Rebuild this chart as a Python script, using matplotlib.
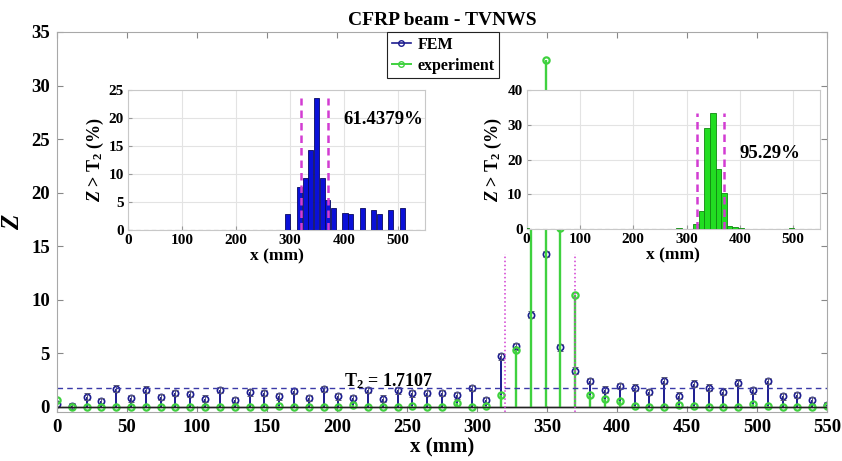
import matplotlib
matplotlib.use("Agg")
import matplotlib.pyplot as plt
import numpy as np
from matplotlib.lines import Line2D

plt.rcParams['font.family'] = ['Liberation Serif', 'DejaVu Serif']
plt.rcParams['font.weight'] = 'bold'
plt.rcParams['axes.titleweight'] = 'bold'
plt.rcParams['axes.labelweight'] = 'bold'
plt.rcParams['mathtext.fontset'] = 'custom'
plt.rcParams['mathtext.rm'] = 'Liberation Serif:bold'
plt.rcParams['mathtext.it'] = 'Liberation Serif:bold:italic'
plt.rcParams['mathtext.bf'] = 'Liberation Serif:bold'

# measurement positions along the beam (mm)
x_pos = np.linspace(0, 550, 53)

# damage index Z, FEM model
z_fem = [0.25, 0.05, 0.93, 0.50, 1.68, 0.78, 1.59, 0.90, 1.30, 1.18,
         0.75, 1.55, 0.60, 1.34, 1.30, 0.96, 1.46, 0.81, 1.65, 0.96,
         0.78, 1.55, 0.75, 1.52, 1.24, 1.30, 1.30, 1.06, 1.75, 0.59,
         4.70, 5.63, 8.59, 14.25, 5.54, 3.36, 2.40, 1.59, 1.93, 1.77,
         1.37, 2.43, 1.03, 2.15, 1.77, 1.40, 2.24, 1.52, 2.40, 0.96,
         1.09, 0.59, 0.16]
z_fem_err = [0.3] * 53

# damage index Z, experiment
z_exp = [0.65, 0.0, 0.0, 0.0, 0.0, 0.0, 0.0, 0.0, 0.0, 0.0,
         0.0, 0.0, 0.0, 0.0, 0.0, 0.10, 0.0, 0.0, 0.0, 0.0,
         0.20, 0.0, 0.0, 0.0, 0.10, 0.0, 0.0, 0.30, 0.0, 0.05,
         1.09, 5.30, 28.4, 32.4, 16.7, 10.46, 1.12, 0.72, 0.50, 0.05,
         0.0, 0.0, 0.15, 0.10, 0.0, 0.0, 0.0, 0.25, 0.05, 0.0,
         0.0, 0.0, 0.10]

# share of Z > T2 per position (%)
pct_fem = [0.0] * 28 + [2.9, 0.0, 7.7, 9.3, 14.2, 23.5, 9.2, 5.4, 4.0, 0.0,
                        3.1, 2.9, 0.0, 3.9, 0.0, 3.5, 2.9, 0.0, 3.6, 0.0,
                        3.9, 0.0, 0.0, 0.0, 0.0]
pct_exp = [0.5] + [0.0] * 26 + [0.3, 0.0, 0.0, 1.5, 5.3, 29.2, 33.3, 17.2,
                               10.5, 1.0, 0.7, 0.5, 0.0, 0.0, 0.0, 0.0, 0.0,
                               0.0, 0.0, 0.0, 0.3, 0.0, 0.0, 0.0, 0.0, 0.0]

T2 = 1.7107
zone = [320, 370]
pct_in_zone_fem = '61.4379%'
pct_in_zone_exp = '95.29%'

C_FEM = '#1c1c8f'
C_EXP = '#3fd13f'
C_ZONE = '#d23cd2'
C_FRAME = '#a8a8a8'

fig = plt.figure(figsize=(8.42, 4.61), dpi=100)
ax = fig.add_axes([0.0677, 0.1063, 0.9145, 0.8243])

# FEM stems with error bars
ml, sl, bl = ax.stem(x_pos, z_fem, basefmt='k-')
ml.set(marker='o', markersize=4.5, markerfacecolor='none',
       markeredgecolor=C_FEM, markeredgewidth=1.2)
sl.set(color=C_FEM, linewidth=1.4)
bl.set(color='#222222', linewidth=1.0)
ax.errorbar(x_pos, z_fem, yerr=z_fem_err, fmt='none', ecolor='#555577',
            elinewidth=0.7, capsize=2, capthick=0.7)

# experiment stems
ml2, sl2, bl2 = ax.stem(x_pos, z_exp, basefmt='k-')
ml2.set(marker='o', markersize=4.5, markerfacecolor='none',
        markeredgecolor=C_EXP, markeredgewidth=1.6)
sl2.set(color=C_EXP, linewidth=1.7)
bl2.set(color='#222222', linewidth=1.0)

ax.axhline(T2, color='#3a3aa8', linestyle=(0, (4, 3)), linewidth=1.0)
ax.text(237, 1.9, 'T$_2$ = 1.7107', ha='center', va='baseline', fontsize=13)
ax.vlines(zone, -0.5, max(z_fem), colors=C_ZONE, linestyles=':', linewidth=1.1)

ax.set_xlim(0, 550)
ax.set_ylim(-0.5, 35)
ax.set_xticks(np.arange(0, 551, 50))
ax.set_yticks(np.arange(0, 36, 5))
ax.tick_params(direction='in', top=True, right=True, length=4, width=0.8,
               color='#888888', labelsize=13.5, pad=5)
for s in ax.spines.values():
    s.set_color(C_FRAME)
    s.set_linewidth(0.8)
ax.set_title('CFRP beam - TVNWS', fontsize=14, pad=5)
ax.set_xlabel('x (mm)', fontsize=15, labelpad=1)
ax.set_ylabel('$Z$', fontsize=18, labelpad=5)

handles = [Line2D([], [], color=C_FEM, marker='o', markerfacecolor='none',
                  markersize=4, linewidth=1.2),
           Line2D([], [], color=C_EXP, marker='o', markerfacecolor='none',
                  markersize=4, linewidth=1.4)]
leg = ax.legend(handles, ['FEM', 'experiment'], loc='upper left',
                bbox_to_anchor=(0.4286, 1.0), borderaxespad=0, fontsize=11.5,
                fancybox=False, framealpha=1, handlelength=1.2,
                handletextpad=0.4, borderpad=0.3, labelspacing=0.3)
leg.get_frame().set_edgecolor('#222222')
leg.get_frame().set_linewidth(0.8)


def inset(rect, pct, color, edge, width, ymax, ystep, label):
    ia = fig.add_axes(rect)
    ia.bar(x_pos, pct, width=width, color=color, edgecolor=edge,
           linewidth=0.6, zorder=3)
    ia.axhline(0, color='#888888', linestyle=(0, (4, 3)), linewidth=0.8,
               zorder=4)
    ia.vlines(zone, 0, max(pct), colors=C_ZONE, linestyles=(0, (3, 2)),
              linewidth=1.8, zorder=5)
    ia.set_xlim(0, 550)
    ia.set_ylim(0, ymax)
    ia.set_xticks(np.arange(0, 501, 100))
    ia.set_yticks(np.arange(0, ymax + 1, ystep))
    ia.grid(True, color='#e3e3e3', linewidth=0.8, zorder=0)
    ia.tick_params(direction='in', length=3, color='#999999', labelsize=11,
                   pad=3)
    for s in ia.spines.values():
        s.set_color('#c8c8c8')
        s.set_linewidth(0.8)
    ia.set_xlabel('x (mm)', fontsize=12.5, labelpad=1)
    ia.set_ylabel('$Z$ > T$_2$ (%)', fontsize=13, labelpad=2)
    ia.text(label[0], label[1], label[2], fontsize=13.5, va='center',
            zorder=6)
    return ia


inset([0.152, 0.5011, 0.3527, 0.3037], pct_fem, '#0a10d8', '#0a0a60', 9.3,
      25, 5, (398, 19.7, pct_in_zone_fem))
inset([0.6255, 0.5026, 0.3482, 0.3022], pct_exp, '#22dd22', '#118811', 10.6,
      40, 10, (400, 21.8, pct_in_zone_exp))

fig.savefig('out.png', dpi=100)
